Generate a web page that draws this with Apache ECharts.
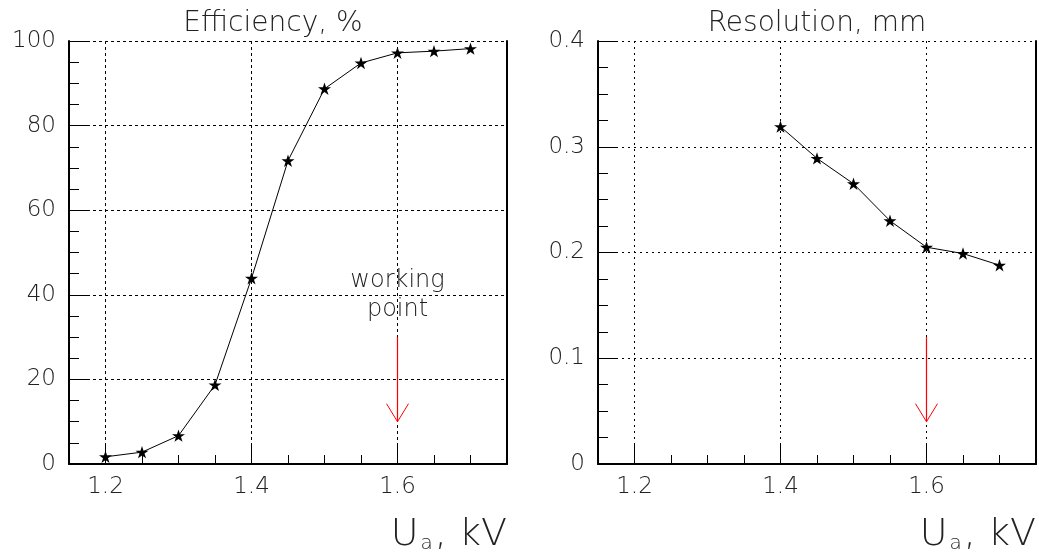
<!DOCTYPE html>
<html><head><meta charset="utf-8">
<script src="https://cdn.jsdelivr.net/npm/echarts@6/dist/echarts.min.js"></script>
<style>html,body{margin:0;padding:0;background:#fff}#c{width:1039px;height:556px}</style>
</head><body><div id="c"></div>
<script>
// ---- data ----
const voltage = [1.2, 1.25, 1.3, 1.35, 1.4, 1.45, 1.5, 1.55, 1.6, 1.65, 1.7];
const efficiency = [1.7, 2.8, 6.7, 18.7, 43.9, 71.7, 88.7, 94.8, 97.2, 97.6, 98.2];
const resVoltage = [1.4, 1.45, 1.5, 1.55, 1.6, 1.65, 1.7];
const resolution = [0.319, 0.289, 0.265, 0.230, 0.205, 0.199, 0.188];
const xLabelValues = [1.2, 1.4, 1.6];
const xMinorValues = [1.2, 1.25, 1.3, 1.35, 1.4, 1.45, 1.5, 1.55, 1.6, 1.65, 1.7];
const workingPoint = 1.6;
const effArrow = [30, 10];
const resArrow = [0.12, 0.04];
const workingLabelY = 40;
const workingLabel = 'working\npoint';
const titles = ['Efficiency, %', 'Resolution, mm'];
const xName = 'U{s|a}, kV';

// ---- style ----
const FONT = '"DejaVu Sans", sans-serif';
const FW = 200;
const TXT = '#222';
const STAR = 'path://M50,0 L61.23,34.55 L97.55,34.55 L68.17,55.9 L79.39,90.45 L50,69.1 L20.61,90.45 L31.83,55.9 L2.45,34.55 L38.77,34.55 Z';

const G = [
  {left: 69, top: 41, width: 438, height: 423},
  {left: 598, top: 41, width: 438, height: 423}
];

const chart = echarts.init(document.getElementById('c'), null, {renderer: 'canvas'});

function xAxesFor(gridIndex, dash) {
  return [
    {
      type: 'value', gridIndex, position: 'bottom', min: 1.15, max: 1.75,
      axisLine: {show: true, onZero: false, lineStyle: {color: '#000', width: 2}},
      axisTick: {show: true, inside: true, length: 9, customValues: xMinorValues, lineStyle: {color: '#000', width: 1}},
      axisLabel: {show: true, customValues: xLabelValues, margin: 12, fontSize: 23, fontFamily: FONT, fontWeight: FW, color: TXT,
        formatter: v => v.toFixed(1)},
      splitLine: {show: false}
    },
    {
      type: 'value', gridIndex, position: 'bottom', min: 1.15, max: 1.75,
      axisLine: {show: false},
      axisTick: {show: true, inside: true, length: 20, customValues: xLabelValues, lineStyle: {color: '#000', width: 1}},
      axisLabel: {show: false},
      splitLine: {show: true, lineStyle: {color: '#000', width: 1, type: dash}}
    }
  ];
}

function yAxesFor(gridIndex, max, interval, dash, fmt) {
  return [
    {
      type: 'value', gridIndex, position: 'left', min: 0, max, interval,
      axisLine: {show: true, lineStyle: {color: '#000', width: 2}},
      axisTick: {show: true, inside: true, length: 18, lineStyle: {color: '#000', width: 1}},
      minorTick: {show: true, splitNumber: 4, length: 10, lineStyle: {color: '#000', width: 1}},
      axisLabel: {show: true, margin: 13, fontSize: 23, fontFamily: FONT, fontWeight: FW, color: TXT, formatter: fmt},
      splitLine: {show: true, lineStyle: {color: '#000', width: 1, type: dash}}
    },
    {
      type: 'value', gridIndex, position: 'right', min: 0, max, interval,
      axisLine: {show: true, lineStyle: {color: '#000', width: 2}},
      axisTick: {show: false}, axisLabel: {show: false}, splitLine: {show: false}
    }
  ];
}

// red "working point" arrow: shaft from ys[0] down to ys[1], open V head at the tip,
// optional caption centred at labelY
function arrowSeries(xi, yi, ys, labelY, zlevel) {
  return {
    type: 'custom', xAxisIndex: xi, yAxisIndex: yi, z: 10, zlevel, silent: true, animation: false, clip: false,
    data: [[workingPoint, ys[0], ys[1]]],
    encode: {x: 0, y: [1, 2]},
    renderItem: function (params, api) {
      const a = api.coord([api.value(0), api.value(1)]);
      const b = api.coord([api.value(0), api.value(2)]);
      const x = Math.round(a[0] - 0.5) + 0.5;
      const children = [
        {type: 'line', shape: {x1: x, y1: a[1], x2: x, y2: b[1]}, style: {stroke: '#ff0000', lineWidth: 1.2}},
        {type: 'polyline', shape: {points: [[x - 11, b[1] - 18], [x, b[1]], [x + 11, b[1] - 18]]},
          style: {stroke: '#ff0000', fill: null, lineWidth: 1}}
      ];
      if (labelY != null) {
        const c = api.coord([api.value(0), labelY]);
        children.push({type: 'text', x: c[0], y: c[1],
          style: {text: workingLabel, font: FW + ' 24px ' + FONT, lineHeight: 29, fill: TXT, align: 'center', verticalAlign: 'middle'}});
      }
      return {type: 'group', children};
    }
  };
}

function titleText(i) {
  return {type: 'text', x: G[i].left + G[i].width / 2 - (i === 0 ? 15 : 0), y: 24, z: 10,
    style: {text: titles[i], font: FW + ' 28px ' + FONT, fill: TXT, align: 'center', verticalAlign: 'middle'}};
}
function xNameText(i) {
  return {type: 'text', x: G[i].left + G[i].width, y: 535, z: 10,
    style: {text: xName, font: FW + ' 38px ' + FONT, fill: TXT, align: 'right', verticalAlign: 'middle',
      rich: {s: {fontSize: 20, fontFamily: FONT, fontWeight: FW, fill: TXT, verticalAlign: 'bottom', lineHeight: 20, padding: [0, 2, 0, 2]}}}};
}

const option = {
  animation: false,
  backgroundColor: '#fff',
  textStyle: {fontFamily: FONT},
  grid: G,
  xAxis: [...xAxesFor(0, [3, 3]), ...xAxesFor(1, [2, 4])],
  yAxis: [
    ...yAxesFor(0, 100, 20, [3, 3], v => String(v)),
    ...yAxesFor(1, 0.4, 0.1, [2, 4], v => (v === 0 ? '0' : v.toFixed(1)))
  ],
  graphic: [titleText(0), titleText(1), xNameText(0), xNameText(1)],
  series: [
    {
      type: 'line', xAxisIndex: 0, yAxisIndex: 0,
      data: voltage.map((v, i) => [v, efficiency[i]]),
      symbol: STAR, symbolSize: [13, 12.4], showAllSymbol: true,
      lineStyle: {color: '#000', width: 1}, itemStyle: {color: '#000'}
    },
    {
      type: 'line', xAxisIndex: 2, yAxisIndex: 2,
      data: resVoltage.map((v, i) => [v, resolution[i]]),
      symbol: STAR, symbolSize: [13, 12.4], showAllSymbol: true,
      lineStyle: {color: '#000', width: 1}, itemStyle: {color: '#000'}
    },
    arrowSeries(0, 0, effArrow, workingLabelY, 1),
    arrowSeries(2, 2, resArrow, null, 0)
  ]
};
chart.setOption(option);
</script></body></html>
